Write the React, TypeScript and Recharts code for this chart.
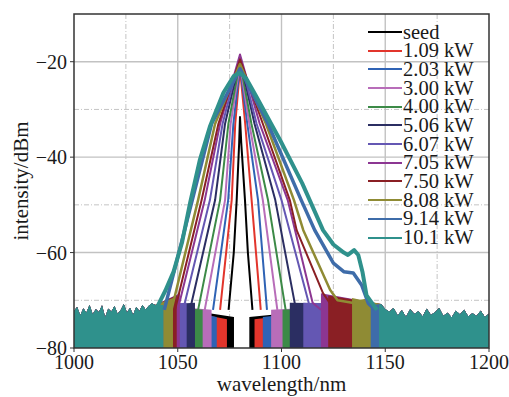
import {
  Area,
  CartesianGrid,
  ComposedChart,
  Legend,
  Line,
  ReferenceArea,
  XAxis,
  YAxis,
} from "recharts";

type Pt = [number, number];

const labels = ["seed", "1.09 kW", "2.03 kW", "3.00 kW", "4.00 kW", "5.06 kW", "6.07 kW", "7.05 kW", "7.50 kW", "8.08 kW", "9.14 kW", "10.1 kW"];

// spectrum outlines above the noise floor, [nm, dBm]
const seedSpectrum: Pt[] = [[1074.5, -72], [1077, -60], [1078.4, -49], [1079.6, -37], [1080, -31.6], [1080.6, -37], [1082.4, -49], [1083.8, -60], [1086, -72]];
const p109: Pt[] = [[1070.4, -72], [1076, -49], [1077.7, -33], [1080, -21.5], [1082.5, -33], [1085.6, -49], [1090, -72]];
const p203: Pt[] = [[1067, -72], [1074.3, -49], [1076.8, -33], [1080, -21], [1083.5, -33], [1088.7, -49], [1093, -72]];
const p300: Pt[] = [[1063, -72], [1072.8, -49], [1075.5, -33], [1080, -20.5], [1084.5, -33], [1091, -49], [1098, -72]];
const p400: Pt[] = [[1059.8, -72], [1070.4, -49], [1074.4, -33], [1080, -20], [1085.5, -33], [1093.5, -49], [1102, -72]];
const p506: Pt[] = [[1055.9, -72], [1068, -49], [1072.8, -33], [1080, -19.5], [1087, -33], [1097, -49], [1107, -72]];
const p607: Pt[] = [[1052.6, -72], [1065.5, -49], [1071.6, -33], [1080, -19], [1088, -33], [1100, -49], [1114, -72]];
const p705: Pt[] = [[1050, -72], [1063, -49], [1070.4, -33], [1080, -18.5], [1089.5, -33], [1103, -49], [1115, -70.5], [1119, -72]];
const p750: Pt[] = [[1048.7, -72], [1061.5, -49], [1069.6, -33], [1080, -19.5], [1091, -33], [1104, -49], [1107.3, -55.3], [1120, -68.5], [1124, -71]];
const p808: Pt[] = [[1047, -72], [1059.8, -49], [1068, -33], [1080, -20.5], [1092.5, -33], [1106, -49], [1110.5, -55.3], [1123.4, -67.8], [1127, -70], [1134, -70.5], [1140, -70], [1142, -72]];
const p914: Pt[] = [[1043.5, -72], [1057, -49], [1066.3, -33], [1080, -21.5], [1093.5, -33], [1109.5, -49], [1116, -55.3], [1125, -62.2], [1130, -64], [1134.6, -64.3], [1138.6, -66.8], [1141.8, -70.6], [1145, -72]];
const p1010: Pt[] = [[1040, -71.5], [1044, -68], [1048, -64], [1052, -58], [1056, -49.5], [1060.7, -40.5], [1065.5, -33.6], [1072, -26.5], [1077, -23], [1080, -22.3], [1083, -23.5], [1088, -27.4], [1095, -33], [1099.3, -36.4], [1110, -45.5], [1120, -55.3], [1125, -58.3], [1130, -60], [1132, -60.5], [1135, -59.5], [1137, -60.5], [1139, -64], [1141, -69], [1146, -72]];

const spectra = [seedSpectrum, p109, p203, p300, p400, p506, p607, p705, p750, p808, p914, p1010];

// where each trace's noise starts reaching the -80 floor (left, right), nm
const floorEdges: Pt[] = [[1077.1, 1084.5], [1073.7, 1087], [1068.8, 1091], [1066.3, 1095], [1062, 1100.5], [1058.3, 1104], [1054.3, 1110.5], [1051, 1119], [1049.5, 1122.5], [1047.7, 1134], [1043, 1143], [1043, 1147]];
// top of each trace's noise band near its edges, dBm
const floorTops = [-73.5, -74, -73.5, -72, -72, -70.5, -70.5, -68.5, -69, -69.5, -71, -71];

// visible noise-floor top, outer wings
const leftNoise: Pt[] = [[1000, -72.3], [1001.5, -71.4], [1003, -73.2], [1004.5, -71.7], [1006, -72.6], [1007.5, -71], [1009, -73], [1010.5, -71.9], [1012, -72.5], [1013.5, -71.1], [1015, -73.6], [1016.5, -71.8], [1018, -72.4], [1019.5, -71.2], [1021, -72.9], [1022.5, -72.1], [1024, -70.8], [1025.5, -72.6], [1027, -71.6], [1028.5, -73.1], [1030, -71.4], [1031.5, -72.3], [1033, -71], [1034.5, -72], [1036, -71.2], [1037.5, -70.6], [1039, -71]];
const rightNoise: Pt[] = [[1148, -70.8], [1150, -71.9], [1152, -72.4], [1154, -71.6], [1156, -73.2], [1158, -72.1], [1160, -73.5], [1162, -71.9], [1164, -72.9], [1166, -72.3], [1168, -73.4], [1170, -71.8], [1172, -73.1], [1174, -72.5], [1176, -71.6], [1178, -73.3], [1180, -72.6], [1182, -73.6], [1184, -72.2], [1186, -73], [1188, -72], [1190, -73.4], [1192, -72.7], [1194, -73.3], [1196, -72.2], [1198, -73.5], [1200, -72.8]];

const xTicks = [1000, 1050, 1100, 1150, 1200];
const yTicks = [-80, -60, -40, -20];
const xMinor = [1025, 1075, 1125, 1175];
const yMinor = [-70, -50, -30];

const colors = ["#000000", "#e2352c", "#2f63b5", "#b86db9", "#3c8a47", "#2b2e62", "#6457b3", "#8c3692", "#8a1f24", "#8f8b34", "#3e6ca9", "#2f918c"];
const widths = [2, 2, 2, 2, 2, 2, 2, 2, 2, 2.5, 3.5, 4];

const font = "'Liberation Serif', 'Times New Roman', serif";

const toRows = (pts: Pt[]) => pts.map(([x, y]) => ({ x, y }));

function floorRows(i: number) {
  const [fl, fr] = floorEdges[i];
  const top = floorTops[i];
  const pts: Pt[] = [
    ...leftNoise.filter((p) => p[0] < fl),
    [fl, top],
    [fl, -80],
    [fr, -80],
    [fr, top],
    ...rightNoise.filter((p) => p[0] > fr),
  ];
  return toRows(pts);
}

const fmt = (v: number) => (v < 0 ? `\u2212${-v}` : `${v}`);

function LegendBox() {
  return (
    <div style={{ fontFamily: font, fontSize: 20.5, color: "#1a1a1a" }}>
      {labels.map((l, i) => (
        <div key={l} style={{ display: "flex", alignItems: "center", height: 18.7, lineHeight: "18.7px" }}>
          <span style={{ display: "inline-block", width: 34, height: 2, background: colors[i], marginRight: 1 }} />
          <span>{l}</span>
        </div>
      ))}
    </div>
  );
}

export default function App() {
  return (
    <div style={{ position: "absolute", left: 0, top: 0, width: 509, height: 397, background: "#fff" }}>
      <ComposedChart width={509} height={397} margin={{ top: 14, right: 20, left: 0, bottom: 0 }} style={{ fontFamily: font }}>
        <CartesianGrid verticalValues={xMinor} horizontalValues={yMinor} stroke="#c4c4c4" strokeDasharray="5 2 1 2" strokeWidth={1} />
        <CartesianGrid verticalValues={[1050, 1100, 1150]} horizontalValues={[-20, -40, -60]} stroke="#c2c2c2" strokeWidth={1.4} />
        <XAxis
          dataKey="x"
          type="number"
          domain={[1000, 1200]}
          ticks={xTicks}
          allowDataOverflow
          height={49}
          axisLine={false}
          tickSize={4}
          tickMargin={3}
          tickLine={{ stroke: "#333" }}
          tick={{ fontSize: 20, fill: "#1a1a1a", fontFamily: font }}
          label={{ value: "wavelength/nm", position: "insideBottom", offset: 6, fontSize: 21, fill: "#1a1a1a", fontFamily: font }}
        />
        <YAxis
          type="number"
          domain={[-80, -10]}
          ticks={yTicks}
          allowDataOverflow
          width={74}
          axisLine={false}
          tickSize={4}
          tickMargin={3}
          tickFormatter={fmt}
          tickLine={{ stroke: "#333" }}
          tick={{ fontSize: 20, fill: "#1a1a1a", fontFamily: font }}
          label={{ value: "intensity/dBm", angle: -90, position: "insideLeft", offset: 21, fontSize: 21, fill: "#1a1a1a", fontFamily: font, style: { textAnchor: "middle" } }}
        />
        {spectra.map((s, i) => (
          <Area
            key={`f${i}`}
            data={floorRows(i)}
            dataKey="y"
            type="linear"
            baseValue={-80}
            stroke="none"
            fill={colors[i]}
            fillOpacity={1}
            isAnimationActive={false}
          />
        ))}
        {spectra.map((s, i) => (
          <Line
            key={`l${i}`}
            data={toRows(s)}
            dataKey="y"
            type="linear"
            stroke={colors[i]}
            strokeWidth={widths[i]}
            strokeLinejoin="round"
            dot={false}
            activeDot={false}
            isAnimationActive={false}
          />
        ))}
        <ReferenceArea x1={1000} x2={1200} y1={-80} y2={-10} fill="none" stroke="#333" strokeWidth={1.5} />
        <Legend
          layout="vertical"
          align="center"
          verticalAlign="middle"
          wrapperStyle={{ left: 368, top: 22.6, width: 140 }}
          content={() => <LegendBox />}
        />
      </ComposedChart>
    </div>
  );
}
